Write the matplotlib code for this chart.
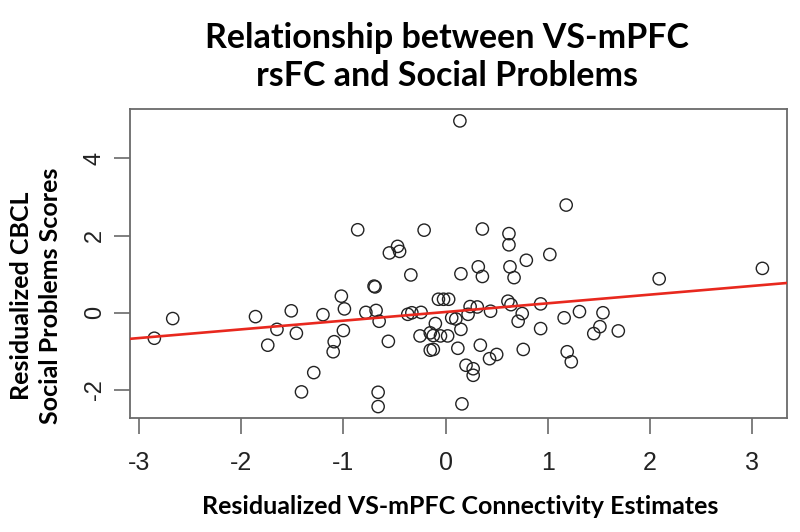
import matplotlib
matplotlib.use("Agg")
import matplotlib.pyplot as plt
import numpy as np

# Residualized VS-mPFC connectivity estimates (x) and residualized CBCL social problems (y)
connectivity = [
    -2.85, -2.67, -1.86, -1.65, -1.74, -1.51, -1.46, -1.41, -1.29, -1.20,
    -1.09, -1.10, -1.02, -0.99, -1.00, -0.86, -0.78, -0.70, -0.69, -0.68,
    -0.65, -0.56, -0.66, -0.66, -0.55, -0.47, -0.45, -0.21, -0.34, -0.37,
    -0.33, -0.24, -0.10, -0.25, -0.15, -0.12, -0.05, 0.02, -0.15, -0.12,
    -0.07, -0.02, 0.03, 0.06, 0.10, 0.15, 0.12, 0.16, 0.14, 0.15,
    0.20, 0.27, 0.27, 0.24, 0.31, 0.22, 0.44, 0.34, 0.50, 0.43,
    0.32, 0.36, 0.36, 0.62, 0.62, 0.63, 0.67, 0.61, 0.64, 0.71,
    0.75, 0.76, 0.79, 1.02, 0.93, 0.93, 1.18, 1.16, 1.19, 1.23,
    1.31, 1.54, 1.51, 1.45, 1.69, 2.09, 3.10,
]
social_problems = [
    -0.66, -0.15, -0.10, -0.43, -0.84, 0.05, -0.53, -2.05, -1.55, -0.05,
    -0.75, -1.01, 0.43, 0.10, -0.46, 2.15, 0.01, 0.69, 0.67, 0.06,
    -0.22, -0.74, -2.06, -2.43, 1.55, 1.72, 1.59, 2.14, 0.98, -0.04,
    0.00, 0.01, -0.28, -0.60, -0.52, -0.59, -0.60, -0.60, -0.97, -0.95,
    0.35, 0.35, 0.35, -0.13, -0.16, -0.43, -0.92, -2.36, 4.97, 1.01,
    -1.36, -1.45, -1.62, 0.16, 0.15, -0.04, 0.04, -0.84, -1.08, -1.19,
    1.19, 0.94, 2.17, 2.05, 1.76, 1.19, 0.91, 0.30, 0.21, -0.22,
    -0.02, -0.95, 1.36, 1.51, 0.23, -0.41, 2.79, -0.13, -1.01, -1.27,
    0.03, 0.00, -0.36, -0.54, -0.47, 0.88, 1.15,
]
fit_intercept = 0.02
fit_slope = 0.225

x_ticks = [-3, -2, -1, 0, 1, 2, 3]
y_ticks = [-2, 0, 2, 4]

title = "Relationship between VS-mPFC\nrsFC and Social Problems"
x_label = "Residualized VS-mPFC Connectivity Estimates"
y_label = "Residualized CBCL\nSocial Problems Scores"

fig = plt.figure(figsize=(8, 5.32), dpi=100)
ax = fig.add_axes([0.1625, 0.2143, 0.8209, 0.5799])

ax.scatter(connectivity, social_problems, s=78, facecolors="none",
           edgecolors="#222222", linewidths=1.0, zorder=3)

x = np.asarray(connectivity)
y = np.asarray(social_problems)
xr = x.max() - x.min()
yr = y.max() - y.min()
ax.set_xlim(x.min() - 0.04 * xr, x.max() + 0.04 * xr)
ax.set_ylim(y.min() - 0.04 * yr, y.max() + 0.04 * yr)

xl = np.array(ax.get_xlim())
ax.plot(xl, fit_intercept + fit_slope * xl, color="#e8281e", lw=1.9, zorder=4)
ax.set_xlim(xl)

for sp in ax.spines.values():
    sp.set_color("#6a6a6a")
    sp.set_linewidth(1.3)

ax.set_xticks(x_ticks)
ax.set_xticklabels([str(t) for t in x_ticks], family="Liberation Sans",
                   fontsize=18, color="#222222")
ax.set_yticks(y_ticks)
ax.set_yticklabels([str(t) for t in y_ticks], family="Liberation Sans",
                   fontsize=17, color="#222222", rotation=90, va="center")
ax.tick_params(axis="x", length=11.5, width=1.2, color="#6a6a6a", pad=12)
ax.tick_params(axis="y", length=11.5, width=1.2, color="#6a6a6a", pad=6)

fig.text(447 / 800, 1 - 57 / 532, title, ha="center", va="center",
         family="Lato", fontweight="bold", fontsize=24.5, linespacing=1.25)
fig.text(460 / 800, 1 - 506 / 532, x_label, ha="center", va="center",
         family="Lato", fontweight="bold", fontsize=18)
fig.text(36 / 800, 1 - 296 / 532, y_label, ha="center", va="center",
         family="Lato", fontweight="bold", fontsize=18, rotation=90,
         linespacing=1.3)

fig.savefig("out.png", dpi=100)
